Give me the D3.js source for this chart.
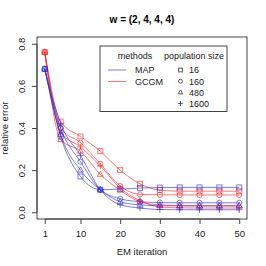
<!DOCTYPE html>
<html><head><meta charset="utf-8">
<script src="https://cdn.jsdelivr.net/npm/d3@7"></script>
<style>body{margin:0;background:#fff}svg{display:block;font-family:"Liberation Sans",Arial,sans-serif}</style>
</head><body>
<svg id="c" width="266" height="266"></svg>
<script>
const iterations = [1,5,10,15,20,25,30,35,40,45,50];
const popSizes = ["16","160","480","1600"];
const gcgm16   = [0.76,0.43,0.36,0.29,0.20,0.135,0.105,0.10,0.10,0.10,0.10];
const gcgm160  = [0.76,0.40,0.33,0.23,0.125,0.085,0.083,0.082,0.082,0.082,0.082];
const gcgm480  = [0.76,0.345,0.29,0.18,0.105,0.05,0.035,0.032,0.031,0.031,0.031];
const gcgm1600 = [0.76,0.38,0.31,0.22,0.115,0.055,0.025,0.021,0.02,0.02,0.02];
const map16    = [0.68,0.36,0.17,0.107,0.11,0.115,0.117,0.118,0.118,0.118,0.118];
const map160   = [0.68,0.40,0.24,0.107,0.064,0.05,0.046,0.045,0.045,0.045,0.045];
const map480   = [0.68,0.37,0.20,0.107,0.05,0.035,0.031,0.03,0.03,0.03,0.03];
const map1600  = [0.68,0.42,0.27,0.107,0.036,0.02,0.013,0.012,0.012,0.012,0.012];
const xTicks = [1,10,20,30,40,50];
const yTicks = [0,0.2,0.4,0.6,0.8];
const methods = ["MAP","GCGM"];

const series = [
  {m:"GCGM",p:"16",v:gcgm16},{m:"GCGM",p:"160",v:gcgm160},{m:"GCGM",p:"480",v:gcgm480},{m:"GCGM",p:"1600",v:gcgm1600},
  {m:"MAP",p:"16",v:map16},{m:"MAP",p:"160",v:map160},{m:"MAP",p:"480",v:map480},{m:"MAP",p:"1600",v:map1600}
];
const color = {MAP:"rgba(40,40,210,0.6)",GCGM:"rgba(255,30,30,0.6)"};
const svg = d3.select("#c");
const L=37,R=247,T=37,B=219;
const x = d3.scaleLinear().domain([1-49*0.04,50+49*0.04]).range([L,R]);
const y = d3.scaleLinear().domain([-0.032,0.832]).range([B,T]);

svg.append("text").attr("x",142).attr("y",23).attr("text-anchor","middle")
  .attr("font-weight","bold").attr("font-size",10).text("w = (2, 4, 4, 4)");

const line = d3.line().x((d,i)=>x(iterations[i])).y(d=>y(d)).curve(d3.curveMonotoneX);

function sym(g,p,cx,cy,col,k){
  k = k||1;
  const a=2.5*k, r=2.6*k, t=3.3*k, tw=3*k, tb=2*k;
  if(p==="16") g.append("rect").attr("x",cx-a).attr("y",cy-a).attr("width",2*a).attr("height",2*a).attr("fill","none").attr("stroke",col);
  else if(p==="160") g.append("circle").attr("cx",cx).attr("cy",cy).attr("r",r).attr("fill","none").attr("stroke",col);
  else if(p==="480") g.append("path").attr("d",`M${cx},${cy-t}L${cx+tw},${cy+tb}L${cx-tw},${cy+tb}Z`).attr("fill","none").attr("stroke",col);
  else g.append("path").attr("d",`M${cx-t},${cy}H${cx+t}M${cx},${cy-t}V${cy+t}`).attr("fill","none").attr("stroke",col);
}

series.forEach(s=>{
  const g = svg.append("g");
  g.append("path").attr("d",line(s.v)).attr("fill","none").attr("stroke",color[s.m]).attr("stroke-width",1);
  s.v.forEach((v,i)=>sym(g,s.p,x(iterations[i]),y(v),color[s.m]));
});

// box
svg.append("rect").attr("x",L).attr("y",T).attr("width",R-L).attr("height",B-T).attr("fill","none").attr("stroke","#444");

// axes
const xa = svg.append("g").attr("transform",`translate(0,${B})`)
  .call(d3.axisBottom(x).tickValues(xTicks).tickSize(5).tickPadding(6).tickFormat(d3.format("d")));
xa.select(".domain").attr("d",`M${x(1)},0H${x(50)}`);
const ya = svg.append("g").attr("transform",`translate(${L},0)`)
  .call(d3.axisLeft(y).tickValues(yTicks).tickSize(5).tickFormat(d3.format(".1f")));
ya.select(".domain").attr("d",`M0,${y(0)}V${y(0.8)}`);
[xa,ya].forEach(a=>{a.selectAll("text").attr("font-size",9.5).attr("fill","#222").attr("font-family","Liberation Sans, Arial, sans-serif");a.selectAll("line,.domain").attr("stroke","#444");});
ya.selectAll(".tick text").each(function(){d3.select(this).attr("x",null).attr("dy",null).attr("text-anchor","middle")
    .attr("transform","translate(-12,0) rotate(-90)");});

svg.append("text").attr("x",142).attr("y",255).attr("text-anchor","middle").attr("font-size",9.5).attr("fill","#222").text("EM iteration");
svg.append("text").attr("transform","translate(8,128) rotate(-90)").attr("text-anchor","middle").attr("font-size",9.5).attr("fill","#222").text("relative error");

// legend
const lg = svg.append("g").attr("fill","#222");
lg.append("rect").attr("x",100).attr("y",46).attr("width",127).attr("height",65.5).attr("fill","#fff").attr("stroke","#444");
lg.append("text").attr("x",135).attr("y",59).attr("text-anchor","middle").attr("font-size",9).text("methods");
lg.append("text").attr("x",194).attr("y",59).attr("text-anchor","middle").attr("font-size",9).text("population size");
methods.forEach((m,i)=>{
  const yy = 70+i*11.5;
  lg.append("line").attr("x1",108).attr("x2",126).attr("y1",yy).attr("y2",yy).attr("stroke",color[m]);
  lg.append("text").attr("x",135).attr("y",yy+3.3).attr("font-size",9).text(m);
});
popSizes.forEach((p,i)=>{
  const yy = 70+i*11.2;
  sym(lg,p,180.5,yy,"#555",0.75);
  lg.append("text").attr("x",189).attr("y",yy+3.3).attr("font-size",9).text(p);
});
</script>
</body></html>
